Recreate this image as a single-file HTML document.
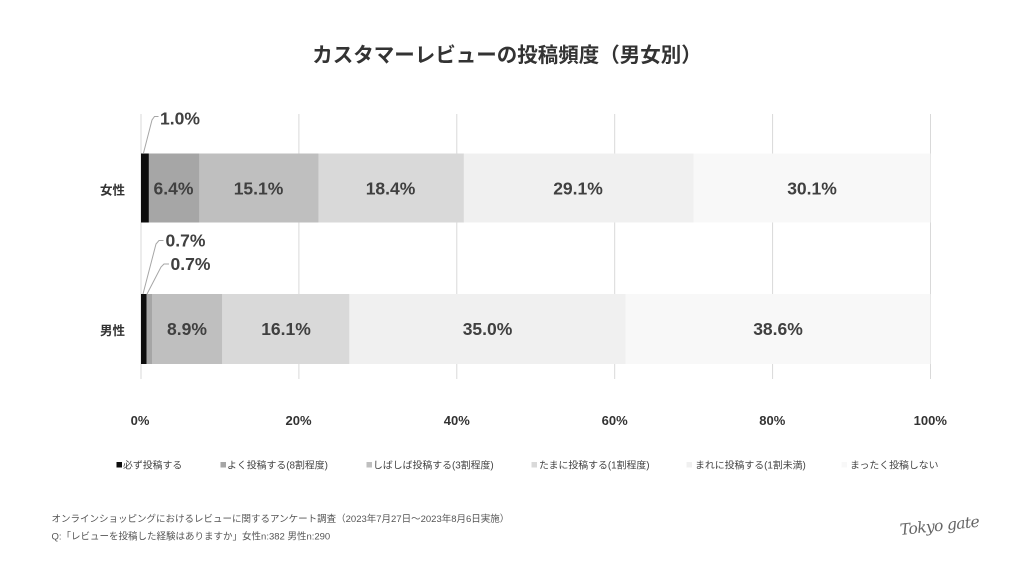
<!DOCTYPE html>
<html lang="ja">
<head>
<meta charset="utf-8">
<style>
  html,body{margin:0;padding:0;background:#fff;}
  body{width:1024px;height:576px;overflow:hidden;}
  svg{display:block;}
  .jp{font-family:"Liberation Sans","Noto Sans CJK JP",sans-serif;}
</style>
</head>
<body>
<svg width="1024" height="576" viewBox="0 0 1024 576" xmlns="http://www.w3.org/2000/svg" class="jp">
  <rect width="1024" height="576" fill="#fff"/>
  <!-- Title -->
  <text x="507" y="62" text-anchor="middle" font-size="20.5" font-weight="bold" fill="#333">カスタマーレビューの投稿頻度（男女別）</text>

  <!-- gridlines -->
  <g stroke="#d9d9d9" stroke-width="1">
    <line x1="141" y1="114" x2="141" y2="379"/>
    <line x1="298.9" y1="114" x2="298.9" y2="379"/>
    <line x1="456.8" y1="114" x2="456.8" y2="379"/>
    <line x1="614.7" y1="114" x2="614.7" y2="379"/>
    <line x1="772.6" y1="114" x2="772.6" y2="379"/>
    <line x1="930.5" y1="114" x2="930.5" y2="379"/>
  </g>

  <!-- Female bar -->
  <g>
    <rect x="141" y="153.5" width="7.9" height="69" fill="#0d0d0d"/>
    <rect x="148.9" y="153.5" width="50.5" height="69" fill="#a6a6a6"/>
    <rect x="199.4" y="153.5" width="119.2" height="69" fill="#bfbfbf"/>
    <rect x="318.6" y="153.5" width="145.3" height="69" fill="#d9d9d9"/>
    <rect x="463.9" y="153.5" width="229.7" height="69" fill="#f0f0f0"/>
    <rect x="693.6" y="153.5" width="236.9" height="69" fill="#f8f8f8"/>
  </g>
  <!-- Male bar -->
  <g>
    <rect x="141" y="294" width="5.5" height="70" fill="#0d0d0d"/>
    <rect x="146.5" y="294" width="5.5" height="70" fill="#a6a6a6"/>
    <rect x="152" y="294" width="70.3" height="70" fill="#bfbfbf"/>
    <rect x="222.3" y="294" width="127.1" height="70" fill="#d9d9d9"/>
    <rect x="349.4" y="294" width="276.3" height="70" fill="#f0f0f0"/>
    <rect x="625.7" y="294" width="304.8" height="70" fill="#f8f8f8"/>
  </g>

  <!-- category labels -->
  <text x="112.5" y="194.5" text-anchor="middle" font-size="12.5" font-weight="bold" fill="#333">女性</text>
  <text x="112.5" y="335" text-anchor="middle" font-size="12.5" font-weight="bold" fill="#333">男性</text>

  <!-- data labels -->
  <g font-size="17.5" font-weight="bold" fill="#404040" text-anchor="middle" font-family="Liberation Sans, sans-serif">
    <text x="173.5" y="194.5">6.4%</text>
    <text x="258.5" y="194.5">15.1%</text>
    <text x="390.5" y="194.5">18.4%</text>
    <text x="578" y="194.5">29.1%</text>
    <text x="812" y="194.5">30.1%</text>

    <text x="187" y="335">8.9%</text>
    <text x="286" y="335">16.1%</text>
    <text x="487.5" y="335">35.0%</text>
    <text x="778" y="335">38.6%</text>
  </g>

  <!-- leader lines -->
  <g stroke="#a6a6a6" stroke-width="1" fill="none">
    <polyline points="143.5,153 152,120 154.5,116.5 158.5,116.5"/>
    <polyline points="143,294 156,244 159,240.5 163.5,240.5"/>
    <polyline points="147,294 161,267 164,264 169,264"/>
  </g>
  <g font-size="17.5" font-weight="bold" fill="#404040" font-family="Liberation Sans, sans-serif">
    <text x="160" y="124.5">1.0%</text>
    <text x="165.5" y="246.5">0.7%</text>
    <text x="170.5" y="270">0.7%</text>
  </g>

  <!-- axis tick labels -->
  <g font-size="13" font-weight="bold" fill="#333" text-anchor="middle" font-family="Liberation Sans, sans-serif">
    <text x="140" y="425">0%</text>
    <text x="298.5" y="425">20%</text>
    <text x="456.8" y="425">40%</text>
    <text x="614.7" y="425">60%</text>
    <text x="772.3" y="425">80%</text>
    <text x="930.3" y="425">100%</text>
  </g>

  <!-- legend -->
  <g font-size="9.9" fill="#444">
    <rect x="116.5" y="462" width="5.5" height="5.5" fill="#0d0d0d"/>
    <text x="123" y="468.5">必ず投稿する</text>
    <rect x="220.5" y="462" width="5.5" height="5.5" fill="#a6a6a6"/>
    <text x="227" y="468.5">よく投稿する(8割程度)</text>
    <rect x="366.5" y="462" width="5.5" height="5.5" fill="#bfbfbf"/>
    <text x="373" y="468.5">しばしば投稿する(3割程度)</text>
    <rect x="531.5" y="462" width="5.5" height="5.5" fill="#d9d9d9"/>
    <text x="539" y="468.5">たまに投稿する(1割程度)</text>
    <rect x="686.5" y="462" width="5.5" height="5.5" fill="#f0f0f0"/>
    <text x="695" y="468.5">まれに投稿する(1割未満)</text>
    <rect x="841.5" y="462" width="5.5" height="5.5" fill="#f8f8f8"/>
    <text x="850" y="468.5">まったく投稿しない</text>
  </g>

  <!-- footer -->
  <g font-size="9.5" fill="#555">
    <text x="51.5" y="521.8">オンラインショッピングにおけるレビューに関するアンケート調査（2023年7月27日〜2023年8月6日実施）</text>
    <text x="51.5" y="539.3">Q:「レビューを投稿した経験はありますか」女性n:382 男性n:290</text>
  </g>

  <!-- logo -->
  <text x="900" y="531" font-family="DejaVu Serif, serif" font-style="italic" font-size="15.5" fill="#666" transform="rotate(-6 938 528)" letter-spacing="-0.6">Tokyo gate</text>
</svg>
</body>
</html>
